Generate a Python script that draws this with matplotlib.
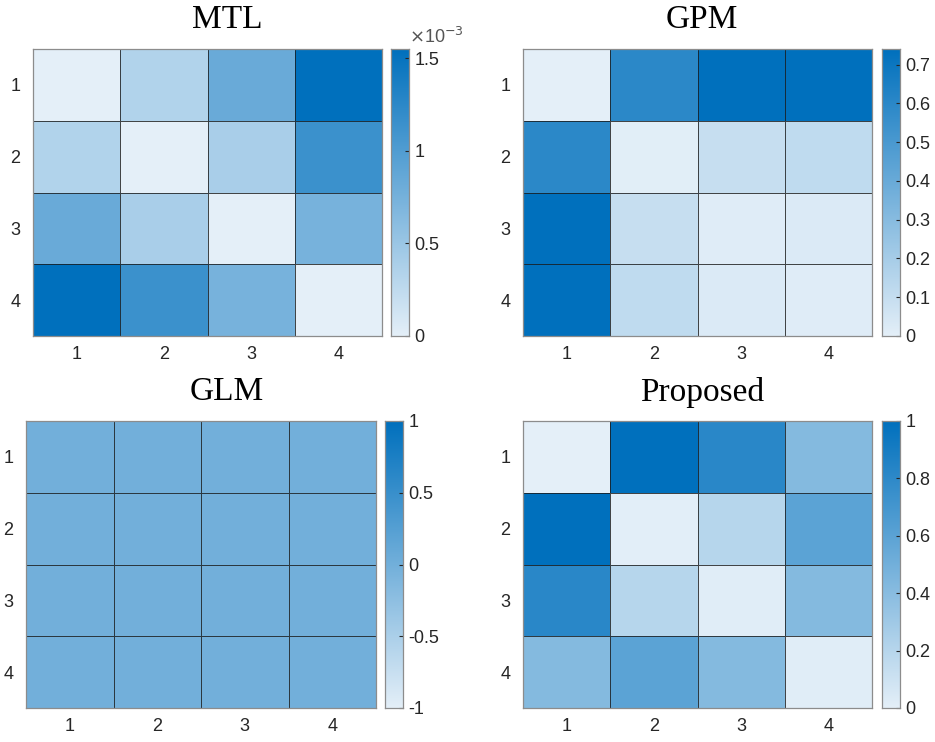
import numpy as np
import matplotlib
matplotlib.use("Agg")
import matplotlib.pyplot as plt
from matplotlib.colors import LinearSegmentedColormap

# 4x4 weight matrices for each method
labels = ["1", "2", "3", "4"]

mtl = np.array([
    [0.00, 0.35, 0.84, 1.55],
    [0.35, 0.00, 0.40, 1.15],
    [0.84, 0.40, 0.00, 0.74],
    [1.55, 1.15, 0.74, 0.00],
]) * 1e-3

gpm = np.array([
    [0.00, 0.60, 0.74, 0.74],
    [0.60, 0.01, 0.10, 0.12],
    [0.74, 0.10, 0.02, 0.03],
    [0.74, 0.12, 0.03, 0.02],
])

glm = np.zeros((4, 4))

proposed = np.array([
    [0.00, 1.00, 0.82, 0.42],
    [1.00, 0.01, 0.20, 0.60],
    [0.82, 0.20, 0.02, 0.42],
    [0.42, 0.60, 0.42, 0.02],
])

titles = ["MTL", "GPM", "GLM", "Proposed"]
mats = [mtl, gpm, glm, proposed]
clims = [(0, 1.55e-3), (0, 0.74), (-1, 1), (0, 1)]
cticks = [
    [0, 0.5e-3, 1e-3, 1.5e-3],
    [0, 0.1, 0.2, 0.3, 0.4, 0.5, 0.6, 0.7],
    [-1, -0.5, 0, 0.5, 1],
    [0, 0.2, 0.4, 0.6, 0.8, 1],
]
cticklabels = [
    ["0", "0.5", "1", "1.5"],
    ["0", "0.1", "0.2", "0.3", "0.4", "0.5", "0.6", "0.7"],
    ["-1", "-0.5", "0", "0.5", "1"],
    ["0", "0.2", "0.4", "0.6", "0.8", "1"],
]

cmap = LinearSegmentedColormap.from_list(
    "blues", [(228 / 255, 239 / 255, 248 / 255), (0 / 255, 112 / 255, 189 / 255)])

W, H = 935, 742
fig = plt.figure(figsize=(W / 100, H / 100), dpi=100)

# pixel boxes: (axes left, axes right, top, bottom, cbar left, title x, title y)
boxes = [
    (33, 382, 49, 336, 391, 227, 20),
    (523, 872, 49, 336, 882, 702, 20),
    (26, 376, 421, 708, 385, 227, 392),
    (523, 872, 421, 708, 882, 702, 392),
]

tick_color = "#262626"
for mat, title, (vmin, vmax), ct, ctl, box in zip(mats, titles, clims, cticks, cticklabels, boxes):
    l, r, t, b, cl, tx, ty = box
    ax = fig.add_axes([l / W, 1 - b / H, (r - l) / W, (b - t) / H])
    ax.pcolormesh(np.arange(5), np.arange(5), mat, cmap=cmap, vmin=vmin, vmax=vmax,
                  edgecolors=(0.1, 0.1, 0.1, 0.8), linewidth=0.55)
    ax.set_xlim(0, 4)
    ax.set_ylim(4, 0)
    ax.set_xticks(np.arange(4) + 0.5)
    ax.set_yticks(np.arange(4) + 0.5)
    ax.set_xticklabels(labels, fontsize=13, color=tick_color, family="Liberation Sans")
    ax.set_yticklabels(labels, fontsize=13, color=tick_color, family="Liberation Sans")
    ax.tick_params(length=0, pad=7)
    ax.tick_params(axis="y", pad=9)
    for s in ax.spines.values():
        s.set_color("#8c8c8c")
        s.set_linewidth(0.9)

    cax = fig.add_axes([cl / W, 1 - b / H, 18 / W, (b - t) / H])
    grad = np.linspace(vmin, vmax, 256).reshape(-1, 1)
    cax.imshow(grad, cmap=cmap, vmin=vmin, vmax=vmax, aspect="auto", origin="lower",
               extent=[0, 1, vmin, vmax])
    cax.set_xticks([])
    cax.yaxis.tick_right()
    cax.set_yticks(ct)
    cax.set_yticklabels(ctl, fontsize=13, color=tick_color, family="Liberation Sans")
    cax.tick_params(axis="y", direction="in", length=3, width=0.8, pad=4, color="#262626")
    cax.set_ylim(vmin, vmax)
    for s in cax.spines.values():
        s.set_color("#8c8c8c")
        s.set_linewidth(0.9)

    fig.text(tx / W, 1 - ty / H, title, ha="center", va="center",
             fontsize=24, family="Liberation Serif")

# exponent marker above the MTL colorbar
fig.text(409 / W, 1 - 37 / H, r"$\times$10$^{-3}$", fontsize=13, color="#555555",
         family="Liberation Sans", ha="left", va="center")

fig.savefig("out.png", dpi=100)
